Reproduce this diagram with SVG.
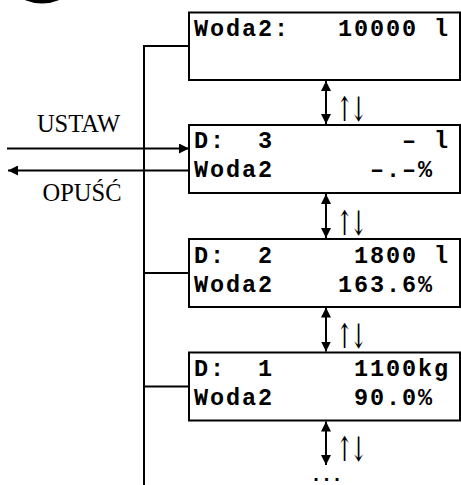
<svg xmlns="http://www.w3.org/2000/svg" width="461" height="485" viewBox="0 0 461 485">
<style>
.box{fill:#fff;stroke:#000;stroke-width:2}
.lcd{font-family:"Liberation Mono","Courier New",monospace;font-weight:bold;font-size:23.5px;letter-spacing:1.9px;fill:#000}
.lbl{font-family:"Liberation Serif","Times New Roman",serif;font-size:24.5px;fill:#000}
.ud{font-family:"DejaVu Serif",serif;font-size:34px;letter-spacing:-5px;fill:#000}
.ln{stroke:#000;stroke-width:2;fill:none}
.dbl{stroke:#000;stroke-width:2;fill:none;marker-start:url(#ah);marker-end:url(#ah)}
.arr{stroke:#000;stroke-width:2;fill:none;marker-end:url(#ah)}
</style>
<defs>
<marker id="ah" viewBox="0 0 10 10" refX="10" refY="5" markerWidth="5" markerHeight="5" orient="auto-start-reverse" markerUnits="strokeWidth">
<path d="M0,0 L10,5 L0,10 z" fill="#000"/>
</marker>
</defs>
<circle cx="42" cy="-40" r="43.5" fill="#000"/>
<g id="connectors">
<path class="ln" d="M144,485 V46 H189"/>
<path class="ln" d="M144,273 H189"/>
<path class="ln" d="M144,386.5 H189"/>
<line class="arr" x1="7" y1="148.5" x2="189" y2="148.5"/>
<line class="arr" x1="189" y1="170.5" x2="8" y2="170.5"/>
<line class="dbl" x1="326" y1="81" x2="326" y2="124"/>
<line class="dbl" x1="326" y1="194" x2="326" y2="238"/>
<line class="dbl" x1="326" y1="307.5" x2="326" y2="351.5"/>
<line class="dbl" x1="326" y1="421.5" x2="326" y2="465"/>
<text class="ud" transform="translate(336,121) scale(0.6,1)">↑↓</text>
<text class="ud" transform="translate(336,234.5) scale(0.6,1)">↑↓</text>
<text class="ud" transform="translate(336,347.5) scale(0.6,1)">↑↓</text>
<text class="ud" transform="translate(336,461) scale(0.6,1)">↑↓</text>
<text class="lbl" x="78.5" y="132" text-anchor="middle">USTAW</text>
<text class="lbl" x="82" y="201" text-anchor="middle">OPUŚĆ</text>
<text x="329" y="480.5" text-anchor="middle" font-family="Liberation Sans, Arial, sans-serif" font-weight="bold" font-size="20" letter-spacing="5">...</text>
</g>
<g id="box1">
<rect class="box" x="189" y="12.5" width="271" height="67.5"/>
<text class="lcd" y="36"><tspan x="194">Woda2:</tspan><tspan x="338">10000</tspan><tspan x="434">l</tspan></text>
</g>
<g id="box2">
<rect class="box" x="189" y="125" width="271" height="68"/>
<text class="lcd" y="148"><tspan x="194">D:</tspan><tspan x="258">3</tspan><tspan x="402">–</tspan><tspan x="434">l</tspan></text>
<text class="lcd" y="177"><tspan x="194">Woda2</tspan><tspan x="370">–.–%</tspan></text>
</g>
<g id="box3">
<rect class="box" x="189" y="239" width="271" height="68"/>
<text class="lcd" y="262.5"><tspan x="194">D:</tspan><tspan x="258">2</tspan><tspan x="354">1800</tspan><tspan x="434">l</tspan></text>
<text class="lcd" y="291.5"><tspan x="194">Woda2</tspan><tspan x="338">163.6%</tspan></text>
</g>
<g id="box4">
<rect class="box" x="189" y="352.5" width="271" height="68"/>
<text class="lcd" y="376"><tspan x="194">D:</tspan><tspan x="258">1</tspan><tspan x="354">1100kg</tspan></text>
<text class="lcd" y="405"><tspan x="194">Woda2</tspan><tspan x="354">90.0%</tspan></text>
</g>
</svg>
